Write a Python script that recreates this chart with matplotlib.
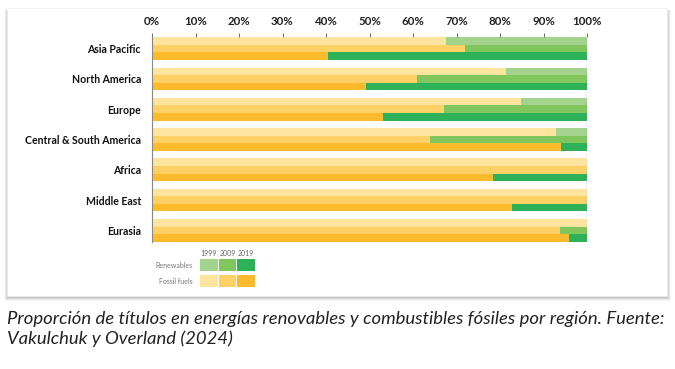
import numpy as np
import matplotlib
matplotlib.use('Agg')
import matplotlib.pyplot as plt
from matplotlib.patches import Rectangle

regions = ["Asia Pacific", "North America", "Europe", "Central & South America",
           "Africa", "Middle East", "Eurasia"]
years = ["1999", "2009", "2019"]
fossil_1999 = [67.6, 81.3, 84.8, 92.9, 100, 100, 100]
fossil_2009 = [72.0, 61.0, 67.2, 63.9, 100, 100, 93.8]
fossil_2019 = [40.5, 49.2, 53.0, 94.0, 78.5, 82.7, 95.9]
fossil = [fossil_1999, fossil_2009, fossil_2019]

green = ['#a3d38d', '#80c65c', '#2db25a']
yellow = ['#fee59f', '#fed166', '#fdba2d']

W, H = 675, 369
fig = plt.figure(figsize=(W / 100, H / 100), dpi=100)
fig.patch.set_facecolor('white')

def px(x, y):
    return x / W, 1 - y / H

# card with soft shadow
for i, a in enumerate([0.04, 0.05, 0.07, 0.09]):
    d = 4 - i
    x0, y1 = px(7 - d / 2, 8 + 2)
    x1, y0 = px(667 + d, 296 + d + 1)
    fig.patches.append(Rectangle((x0, y0), x1 - x0, y1 - y0, transform=fig.transFigure,
                                 facecolor='black', alpha=a, edgecolor='none', zorder=0))
x0, y1 = px(7, 8)
x1, y0 = px(667, 296)
fig.patches.append(Rectangle((x0, y0), x1 - x0, y1 - y0, transform=fig.transFigure,
                             facecolor='white', edgecolor='#eeeeee', lw=0.5, zorder=1))

l, t = px(152, 37.3)
r, b = px(587, 241.7)
ax = fig.add_axes([l, b, r - l, t - b])
ax.set_zorder(2)
ax.patch.set_alpha(0)

h = 0.25
y = np.arange(len(regions))
for k in range(3):
    yy = y - h + k * h
    f = np.array(fossil[k])
    ax.barh(yy, f, height=h, color=yellow[k], edgecolor='none')
    ax.barh(yy, 100 - f, left=f, height=h, color=green[k], edgecolor='none')

ax.set_xlim(0, 100)
ax.set_ylim(len(regions) - 1 + 1.5 * h, -1.5 * h)
ax.axvline(100, color='#555555', lw=0.8)
ax.xaxis.tick_top()
ax.set_xticks(np.arange(0, 101, 10))
ax.set_xticklabels([f"{v}%" for v in range(0, 101, 10)], fontfamily='Lato',
                   fontweight='bold', fontsize=8.3, color='#222222')
ax.tick_params(axis='x', length=3, width=0.6, color='#555555', pad=4.5)
ax.set_yticks(y)
ax.set_yticklabels(regions, fontfamily='Lato', fontweight='bold', fontsize=7.6, color='#111111')
ax.tick_params(axis='y', length=0, pad=8)
for s in ['top', 'right', 'bottom']:
    ax.spines[s].set_visible(False)
ax.spines['left'].set_color('#888888')
ax.spines['left'].set_linewidth(0.8)

# legend
sq_x = [200, 218.5, 237]
for k in range(3):
    cx, cy = px(sq_x[k] + 9, 253)
    fig.text(cx, cy, years[k], ha='center', va='center', fontsize=5,
             color='#666666', fontfamily='Lato', zorder=3)
    for row, cols in [(259, green), (275, yellow)]:
        xa, ya = px(sq_x[k], row + 12)
        fig.patches.append(Rectangle((xa, ya), 17.5 / W, 12 / H, transform=fig.transFigure,
                                     facecolor=cols[k], edgecolor='none', zorder=3))
for row, lab in [(265, "Renewables"), (281, "Fossil fuels")]:
    tx, ty = px(193, row)
    fig.text(tx, ty, lab, ha='right', va='center', fontsize=5, color='#777777',
             fontfamily='Lato', zorder=3)

cx, cy = px(7, 329)
fig.text(cx, cy, "Proporción de títulos en energías renovables y combustibles fósiles por región. Fuente:\n"
         "Vakulchuk y Overland (2024)", ha='left', va='center', fontsize=13.3,
         fontfamily='Lato', fontstyle='italic', color='#222222', linespacing=1.22)

fig.savefig('out.png', dpi=100)
